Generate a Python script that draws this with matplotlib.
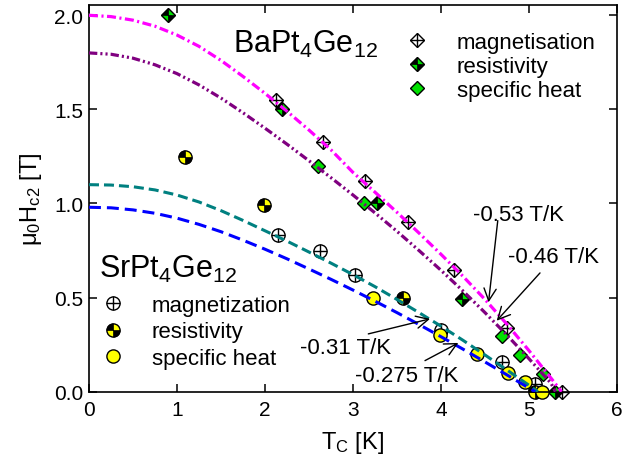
import numpy as np
import matplotlib
matplotlib.use('Agg')
import matplotlib.pyplot as plt
from matplotlib.path import Path

plt.rcParams['font.family'] = ['Liberation Sans', 'DejaVu Sans']
plt.rcParams['mathtext.fontset'] = 'custom'
plt.rcParams['mathtext.rm'] = 'Liberation Sans'
plt.rcParams['mathtext.it'] = 'Liberation Sans:italic'
plt.rcParams['mathtext.default'] = 'regular'
plt.rcParams['lines.scale_dashes'] = False

# ---------------- data ----------------
ba_mag_T = [2.13, 2.655, 3.135, 3.62, 4.15, 4.75, 5.37]
ba_mag_H = [1.55, 1.325, 1.12, 0.90, 0.647, 0.34, 0.0]
ba_res_T = [0.90, 2.19, 3.27, 4.24, 5.30]
ba_res_H = [2.00, 1.50, 1.00, 0.495, 0.0]
ba_sh_T = [2.60, 3.12, 4.69, 4.90, 5.16]
ba_sh_H = [1.20, 1.00, 0.295, 0.195, 0.094]

sr_mag_T = [2.15, 2.62, 3.02, 4.00, 4.69, 5.07]
sr_mag_H = [0.835, 0.746, 0.62, 0.33, 0.156, 0.04]
sr_res_T = [1.095, 1.99, 3.57, 5.07]
sr_res_H = [1.245, 0.99, 0.50, 0.0]
sr_sh_T = [3.23, 3.99, 4.405, 4.765, 4.955, 5.15]
sr_sh_H = [0.50, 0.30, 0.20, 0.10, 0.05, 0.0]

# fitted curves, points
curve_T = [0, 0.25, 0.5, 0.75, 1.0, 1.25, 1.5, 1.75, 2.0, 2.25, 2.5, 2.75,
           3.0, 3.25, 3.5, 3.75, 4.0, 4.25, 4.5, 4.75, 5.0, 5.25]
mag_curve_H = [2.000, 1.993, 1.974, 1.942, 1.895, 1.835, 1.760, 1.675, 1.585, 1.490,
               1.390, 1.285, 1.165, 1.060, 0.953, 0.843, 0.730, 0.613, 0.490, 0.358,
               0.218, 0.072]
mag_end = (5.37, 0.0)
pur_curve_H = [1.800, 1.793, 1.772, 1.737, 1.690, 1.630, 1.560, 1.482, 1.400, 1.315,
               1.227, 1.137, 1.045, 0.950, 0.852, 0.750, 0.645, 0.535, 0.420, 0.300,
               0.175, 0.045]
pur_end = (5.30, 0.0)
teal_curve_H = [1.100, 1.098, 1.089, 1.072, 1.045, 1.008, 0.962, 0.910, 0.855, 0.800,
                0.742, 0.683, 0.622, 0.558, 0.490, 0.420, 0.348, 0.273, 0.195, 0.115,
                0.034]
teal_end = (5.10, 0.0)
blue_curve_H = [0.980, 0.977, 0.966, 0.948, 0.922, 0.889, 0.850, 0.805, 0.757, 0.706,
                0.652, 0.597, 0.540, 0.481, 0.420, 0.357, 0.292, 0.226, 0.158, 0.089,
                0.019]
blue_end = (5.07, 0.0)

slope_labels = ['-0.53 T/K', '-0.46 T/K', '-0.31 T/K', '-0.275 T/K']
slope_text_xy = [(4.36, 0.944), (4.76, 0.716), (2.40, 0.236), (3.02, 0.085)]
slope_tail_xy = [(4.645, 0.909), (5.125, 0.631), (3.174, 0.307), (3.818, 0.165)]
slope_tip_xy = [(4.54, 0.475), (4.633, 0.377), (3.875, 0.387), (4.197, 0.259)]

xticks = [0, 1, 2, 3, 4, 5, 6]
yticks = [0.0, 0.5, 1.0, 1.5, 2.0]

GREEN = '#00E000'
YELLOW = '#FFFF00'

# custom quadrant markers
circ_q = Path.make_compound_path(Path.wedge(90, 180), Path.wedge(270, 360))
diam_q = Path([(0, 0), (-1, 0), (0, 1), (0, 0), (0, 0), (1, 0), (0, -1), (0, 0)],
              [Path.MOVETO, Path.LINETO, Path.LINETO, Path.CLOSEPOLY,
               Path.MOVETO, Path.LINETO, Path.LINETO, Path.CLOSEPOLY])

fig = plt.figure(figsize=(6.24, 4.64), dpi=100)
ax = fig.add_axes([0.1426, 0.1537, 0.8462, 0.8323])

DMS = 7.2
DMS2 = DMS * 1.414
CMS = 9.5

kw = dict(ls='none', clip_on=False, zorder=2)
# Ba magnetisation
h_bm1, = ax.plot(ba_mag_T, ba_mag_H, marker='D', ms=DMS, mfc='white', mec='k', mew=1, **kw)
h_bm2, = ax.plot(ba_mag_T, ba_mag_H, marker='+', ms=DMS2, mec='k', mew=1, **kw)
# Ba resistivity
h_br1, = ax.plot(ba_res_T, ba_res_H, marker='D', ms=DMS, mfc=GREEN, mec='k', mew=1, **kw)
h_br2, = ax.plot(ba_res_T, ba_res_H, marker=diam_q, ms=DMS2, mfc='k', mec='k', mew=0.5, **kw)
# Ba specific heat
h_bs, = ax.plot(ba_sh_T, ba_sh_H, marker='D', ms=DMS, mfc=GREEN, mec='k', mew=1, **kw)
# Sr magnetization
h_sm1, = ax.plot(sr_mag_T, sr_mag_H, marker='o', ms=CMS, mfc='white', mec='k', mew=1, **kw)
h_sm2, = ax.plot(sr_mag_T, sr_mag_H, marker='+', ms=CMS, mec='k', mew=1, **kw)
# Sr resistivity
h_sr1, = ax.plot(sr_res_T, sr_res_H, marker='o', ms=CMS, mfc=YELLOW, mec='k', mew=1, **kw)
h_sr2, = ax.plot(sr_res_T, sr_res_H, marker=circ_q, ms=CMS, mfc='k', mec='k', mew=0.5, **kw)
# Sr specific heat
h_ss, = ax.plot(sr_sh_T, sr_sh_H, marker='o', ms=CMS, mfc=YELLOW, mec='k', mew=1, **kw)

# curves (drawn above markers)
def curve(H, end):
    return curve_T[:len(H)] + [end[0]], H + [end[1]]

x, y = curve(mag_curve_H, mag_end)
ax.plot(x, y, color='#FF00FF', lw=2.3, dashes=(6.5, 2.5, 1.5, 2.5), zorder=3)
x, y = curve(pur_curve_H, pur_end)
ax.plot(x, y, color='#800080', lw=2.3, dashes=(6.0, 2.2, 1.5, 2.2, 1.5, 2.2), zorder=3)
x, y = curve(teal_curve_H, teal_end)
ax.plot(x, y, color='#008080', lw=2.2, dashes=(7.2, 3.6), zorder=3)
x, y = curve(blue_curve_H, blue_end)
ax.plot(x, y, color='#0000FF', lw=2.2, dashes=(8.6, 4.3), zorder=3)

# annotations
for lab, txy, tail, tip in zip(slope_labels, slope_text_xy, slope_tail_xy, slope_tip_xy):
    ax.text(txy[0], txy[1], lab, fontsize=16, ha='left', va='center', zorder=5)
    ax.annotate('', xy=tip, xytext=tail,
                arrowprops=dict(arrowstyle='->', lw=1.0, color='k', mutation_scale=22,
                                shrinkA=0, shrinkB=0), zorder=5)

ax.text(1.636, 1.805, r'BaPt$_4$Ge$_{12}$', fontsize=22, ha='left', va='baseline')
ax.text(0.117, 0.61, r'SrPt$_4$Ge$_{12}$', fontsize=22, ha='left', va='baseline')

leg1 = ax.legend([(h_bm1, h_bm2), (h_br1, h_br2), h_bs],
                 ['magnetisation', 'resistivity', 'specific heat'],
                 loc='upper left', bbox_to_anchor=(0.600, 0.931), frameon=False,
                 borderpad=0, borderaxespad=0, handlelength=1.0, handletextpad=1.29,
                 labelspacing=0.13, fontsize=16, numpoints=1)
ax.add_artist(leg1)
leg2 = ax.legend([(h_sm1, h_sm2), (h_sr1, h_sr2), h_ss],
                 ['magnetization', 'resistivity', 'specific heat'],
                 loc='upper left', bbox_to_anchor=(0.025, 0.251), frameon=False,
                 borderpad=0, borderaxespad=0, handlelength=1.0, handletextpad=1.23,
                 labelspacing=0.25, fontsize=16, numpoints=1)

ax.set_xlim(0, 6)
ax.set_ylim(0, 2.052)
ax.set_xticks(xticks)
ax.set_yticks(yticks)
ax.set_xticklabels([str(t) for t in xticks])
ax.set_yticklabels(['%.1f' % t for t in yticks])
ax.tick_params(direction='in', length=6, width=1.1, top=True, right=True, labelsize=15)
ax.tick_params(axis='x', pad=6)
ax.tick_params(axis='y', pad=4)
for s in ax.spines.values():
    s.set_linewidth(1.2)

ax.set_xlabel(r'T$_C$ [K]', fontsize=17, labelpad=7)
ax.set_ylabel(r'μ$_0$H$_{c2}$ [T]', fontsize=17, labelpad=7)

fig.savefig('out.png', dpi=100)
